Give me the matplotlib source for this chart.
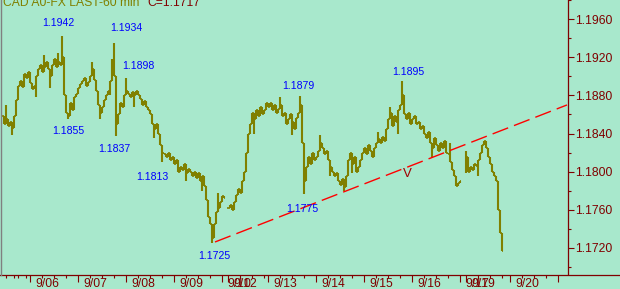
import numpy as np
import matplotlib
matplotlib.use('Agg')
import matplotlib.pyplot as plt
from matplotlib.lines import Line2D

nan = np.nan

# day segments (hourly bars per day on the chart)
day_labels = ['9/05', '9/06', '9/07', '9/08', '9/09', '9/10', '9/12',
              '9/13', '9/14', '9/15', '9/16', '9/17', '9/19', '9/20']
day_bars = [14, 24, 24, 24, 24, 3, 20, 24, 24, 24, 24, 3, 22, 24]

# hourly closes
c0905 = [1.1858, 1.1850, 1.1855, 1.1848, 1.1852, 1.1846, 1.1858, 1.1875,
         1.1890, 1.1895, 1.1889, 1.1903, 1.1898, 1.1905]
c0906 = [1.1893, 1.1887, 1.1890, 1.1900, 1.1908, 1.1912, 1.1905, 1.1910,
         1.1915, 1.1908, 1.1900, 1.1912, 1.1918, 1.1910, 1.1915, 1.1912,
         1.1920, 1.1880, 1.1862, 1.1858, 1.1872, 1.1865, 1.1878, 1.1882]
c0907 = [1.1888, 1.1892, 1.1895, 1.1898, 1.1890, 1.1894, 1.1900, 1.1908,
         1.1896, 1.1885, 1.1870, 1.1862, 1.1868, 1.1875, 1.1880, 1.1885,
         1.1895, 1.1915, 1.1900, 1.1850, 1.1860, 1.1872, 1.1868, 1.1880]
c0908 = [1.1885, 1.1882, 1.1878, 1.1884, 1.1880, 1.1885, 1.1880, 1.1876,
         1.1870, 1.1874, 1.1868, 1.1865, 1.1860, 1.1850, 1.1845, 1.1850,
         1.1840, 1.1828, 1.1820, 1.1818, 1.1815, 1.1820, 1.1812, 1.1815]
c0909 = [1.1808, 1.1812, 1.1800, 1.1805, 1.1802, 1.1808, 1.1798, 1.1803,
         1.1800, 1.1795, 1.1800, 1.1793, 1.1798, 1.1790, 1.1795, 1.1785,
         1.1770, 1.1752, 1.1745, 1.1730, 1.1745, 1.1758, 1.1762, 1.1768]
c0910 = [1.1774, 1.1772, nan]
c0912 = [1.1762, 1.1765, 1.1760, 1.1768, 1.1775, 1.1782, 1.1778, 1.1790,
         1.1800, 1.1820, 1.1840, 1.1850, 1.1862, 1.1855, 1.1865, 1.1858,
         1.1868, 1.1860, 1.1865, 1.1872]
c0913 = [1.1868, 1.1872, 1.1865, 1.1870, 1.1862, 1.1866, 1.1870, 1.1858,
         1.1862, 1.1850, 1.1855, 1.1860, 1.1852, 1.1845, 1.1856, 1.1862,
         1.1870, 1.1830, 1.1790, 1.1805, 1.1815, 1.1808, 1.1820, 1.1812]
c0914 = [1.1815, 1.1822, 1.1830, 1.1825, 1.1818, 1.1822, 1.1812, 1.1805,
         1.1800, 1.1795, 1.1798, 1.1790, 1.1786, 1.1792, 1.1784, 1.1795,
         1.1812, 1.1820, 1.1808, 1.1815, 1.1800, 1.1805, 1.1812, 1.1820]
c0915 = [1.1825, 1.1818, 1.1828, 1.1822, 1.1815, 1.1825, 1.1830, 1.1834,
         1.1830, 1.1836, 1.1832, 1.1845, 1.1855, 1.1862, 1.1848, 1.1858,
         1.1852, 1.1865, 1.1870, 1.1880, 1.1860, 1.1855, 1.1862, 1.1850]
c0916 = [1.1855, 1.1858, 1.1850, 1.1852, 1.1845, 1.1848, 1.1840, 1.1835,
         1.1842, 1.1830, 1.1825, 1.1835, 1.1828, 1.1822, 1.1830, 1.1825,
         1.1832, 1.1820, 1.1818, 1.1810, 1.1802, 1.1795, 1.1785, 1.1788]
c0917 = [1.1790, nan, nan]
c0919 = [1.1815, 1.1800, 1.1805, 1.1802, 1.1808, 1.1806, 1.1812, 1.1820,
         1.1828, 1.1832, 1.1825, 1.1815, 1.1808, 1.1800, 1.1795, 1.1790,
         1.1760, 1.1735, 1.1717]

# intrabar extremes that stick out of the open/close range (bar index)
spike_idx = [2, 5, 17, 21, 24, 28, 30, 33, 36, 45, 49, 54, 55, 56, 57, 62,
             66, 76, 80, 92, 100, 105, 108, 126, 139, 145, 149, 151, 159,
             164, 171, 175, 188, 194, 198, 200, 215, 224, 232, 238]
spike_hi = [1.1870, nan, nan, 1.1922, nan, 1.1925, 1.1942, nan, nan, 1.1915,
            nan, nan, 1.1918, 1.1935, nan, 1.1898,
            nan, nan, nan, nan, nan, nan, 1.1778, nan, 1.1878, nan, 1.1879,
            nan, 1.1838,
            nan, nan, nan, 1.1842, 1.1868, nan, 1.1895, nan, 1.1830, 1.1822,
            nan]
spike_lo = [nan, 1.1838, 1.1878, nan, 1.1888, nan, nan, 1.1855, 1.1868, nan,
            1.1855, 1.1880, nan, nan, 1.1837, nan,
            1.1868, 1.1835, 1.1810, 1.1790, 1.1780, 1.1725, nan, 1.1840, nan,
            1.1838, nan, 1.1776, nan,
            1.1795, 1.1780, 1.1798, nan, nan, 1.1840, nan, 1.1815, nan,
            1.1798, 1.1795]

# blue high/low annotations: value, bar position, price position
ann_val = [1.1942, 1.1934, 1.1898, 1.1855, 1.1837, 1.1813, 1.1725, 1.1879,
           1.1775, 1.1895]
ann_x = [28, 62, 68, 33, 56, 75, 106, 148, 150, 203]
ann_y = [1.19556, 1.19509, 1.19109, 1.18426, 1.18237, 1.17943, 1.17113,
         1.18899, 1.17607, 1.19046]

# trend line end points (bar, price)
trend_x = [106.5, 282.5]
trend_y = [1.1726, 1.1870]

closes = np.array(c0905 + c0906 + c0907 + c0908 + c0909 + c0910 + c0912 +
                  c0913 + c0914 + c0915 + c0916 + c0917 + c0919, dtype=float)
idx = np.arange(len(closes))
opens = np.concatenate([[closes[0]], closes[:-1]])
opens = np.where(np.isnan(opens), closes, opens)
highs = np.fmax(opens, closes)
lows = np.fmin(opens, closes)
for k, h, l in zip(spike_idx, spike_hi, spike_lo):
    if not np.isnan(h):
        highs[k] = max(h, highs[k])
    if not np.isnan(l):
        lows[k] = min(l, lows[k])
ok = ~np.isnan(closes)

BG = '#a8e8cc'
OLIVE = '#808000'
DRED = '#800000'
FONT = ['Liberation Sans', 'DejaVu Sans']
plt.rcParams['font.family'] = FONT

W, H = 620, 289
fig = plt.figure(figsize=(W / 100, H / 100), dpi=100, facecolor=BG)
ax = fig.add_axes([1 / W, (H - 274.5) / H, 566.5 / W, 274.5 / H])
ax.set_facecolor(BG)

ax.vlines(idx[ok], lows[ok], highs[ok], color=OLIVE, lw=1.5)
ax.hlines(opens[ok], idx[ok] - 0.7, idx[ok], color=OLIVE, lw=1.2)
ax.hlines(closes[ok], idx[ok], idx[ok] + 0.7, color=OLIVE, lw=1.2)

ax.plot(trend_x, trend_y, color='#ff0000', lw=1.0, dashes=(12, 4.5))
ax.text(202.5, 1.17974, 'V', color='#a00000', fontsize=9.5,
        ha='center', va='center')

for v, x, y in zip(ann_val, ann_x, ann_y):
    ax.text(x, y, f'{v:.4f}', color='#0000ff', fontsize=7.6,
            ha='center', va='center')

ax.set_xlim(-0.5, 282.75)
ax.set_ylim(1.169184, 1.198028)

# y axis on the right
ax.yaxis.tick_right()
yt = np.arange(1.1720, 1.1961, 0.004)
ax.set_yticks(yt)
ax.set_yticklabels([f'{v:.4f}' for v in yt])
ax.set_yticks(np.arange(1.1700, 1.1981, 0.004), minor=True)
ax.tick_params(axis='y', which='major', length=4.5, width=0.8, colors=DRED,
               labelsize=8.7, pad=1)
ax.tick_params(axis='y', which='minor', length=2.3, width=0.8, colors=DRED)

# x axis: day starts and 6-hour ticks
starts = np.concatenate([[0], np.cumsum(day_bars)])
major, minor = [], []
for s, n in zip(starts[:-1], day_bars):
    major.append(s)
    minor += [s + h for h in range(6, n, 6)]
major.append(starts[-1])
minor = [m for m in minor + [2, 8] if m not in major]
ax.set_xticks(major[1:])
ax.set_xticklabels([])
ax.set_xticks(sorted(set(minor)), minor=True)
ax.tick_params(axis='x', which='major', length=5, width=0.8, colors=DRED)
ax.tick_params(axis='x', which='minor', length=2.3, width=0.8, colors=DRED)
for s, lab in zip(starts[1:-1], day_labels[1:]):
    ax.text(s + 2.6, -3.5 / 274.5, lab, transform=ax.get_xaxis_transform(),
            color=DRED, fontsize=8.7, ha='left', va='top')

for sp in ['left', 'top', 'bottom']:
    ax.spines[sp].set_visible(False)
ax.spines['right'].set_color(DRED)
ax.spines['right'].set_linewidth(0.9)

yb = (H - 274.5) / H
fig.add_artist(Line2D([0, 1], [yb, yb], color=DRED, lw=0.9))
fig.add_artist(Line2D([0.5 / W, 0.5 / W], [yb, 1], color='#808080', lw=1.0))

# title, partly cut at the top edge like the original
fig.text(3 / W, 1 - 6.5 / H, 'CAD A0-FX LAST-60 min', color=OLIVE,
         fontsize=8.7, va='baseline')
fig.text(147 / W, 1 - 6.5 / H, f'C={closes[ok][-1]:.4f}', color=DRED,
         fontsize=8.7, va='baseline')

fig.savefig('out.png', dpi=100, facecolor=BG)
